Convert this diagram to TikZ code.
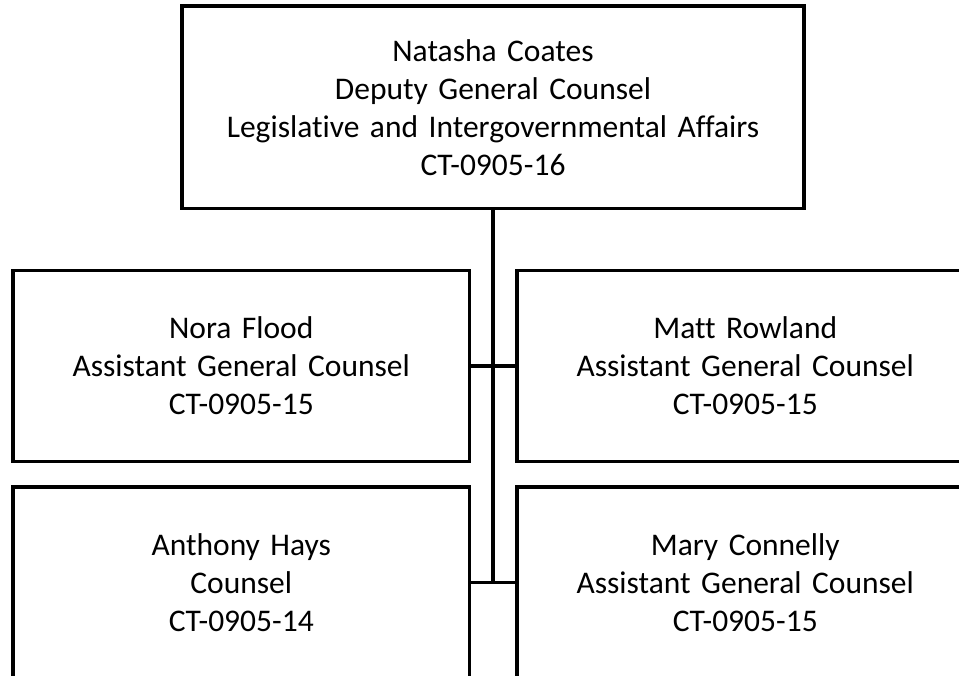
\documentclass[tikz,border=0pt]{standalone}
\usepackage{fontspec}
\setmainfont{Carlito}[Ligatures=NoCommon]
\begin{document}
\begin{tikzpicture}[x=1pt,y=1pt,
  orgbox/.style={draw=black, line width=3.3pt, fill=white, inner sep=0pt,
    align=center, font=\fontsize{31.5}{38}\selectfont},
  link/.style={draw=black, line width=3.4pt}]
  % page frame
  \fill[white] (0,0) rectangle (959,-676);
  \useasboundingbox (0,0) rectangle (959,-676);

  % boxes
  \node[orgbox, minimum width=622pt, minimum height=202.5pt, text width=600pt]
    (head) at (493,-107.25)
    {Natasha Coates\\Deputy General Counsel\\Legislative and Intergovernmental Affairs\\CT-0905-16};
  \node[orgbox, minimum width=456.5pt, minimum height=191pt, text width=440pt]
    (nora) at (241.25,-366)
    {Nora Flood\\Assistant General Counsel\\CT-0905-15};
  \node[orgbox, minimum width=456.5pt, minimum height=191pt, text width=440pt]
    (matt) at (745.25,-366)
    {Matt Rowland\\Assistant General Counsel\\CT-0905-15};
  \node[orgbox, minimum width=456.5pt, minimum height=191pt, text width=440pt]
    (anthony) at (241.25,-582.5)
    {Anthony Hays\\Counsel\\CT-0905-14};
  \node[orgbox, minimum width=456.5pt, minimum height=191pt, text width=440pt]
    (mary) at (745.25,-582.5)
    {Mary Connelly\\Assistant General Counsel\\CT-0905-15};

  % connectors
  \coordinate (trunkend) at (head.south |- anthony.east);
  \draw[link] (head.south) -- (trunkend);
  \draw[link] (nora.east) -- (matt.west);
  \draw[link] (anthony.east) -- (mary.west);
\end{tikzpicture}
\end{document}
